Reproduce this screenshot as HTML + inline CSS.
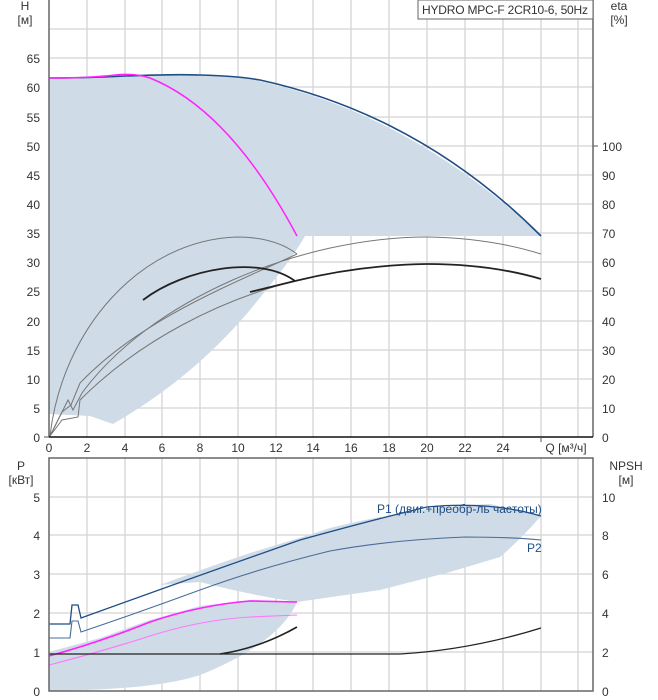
<!DOCTYPE html>
<html><head><meta charset="utf-8"><style>
html,body{margin:0;padding:0;background:#fff}
svg{display:block;font-family:"Liberation Sans",sans-serif}
</style></head><body>
<svg width="658" height="700" viewBox="0 0 658 700" xmlns="http://www.w3.org/2000/svg">
<g stroke="#d4d4d4" stroke-width="1.3">
<line x1="87" y1="0" x2="87" y2="437"/><line x1="125" y1="0" x2="125" y2="437"/><line x1="162" y1="0" x2="162" y2="437"/><line x1="200" y1="0" x2="200" y2="437"/><line x1="238" y1="0" x2="238" y2="437"/><line x1="276" y1="0" x2="276" y2="437"/><line x1="313" y1="0" x2="313" y2="437"/><line x1="351" y1="0" x2="351" y2="437"/><line x1="389" y1="0" x2="389" y2="437"/><line x1="427" y1="0" x2="427" y2="437"/><line x1="465" y1="0" x2="465" y2="437"/><line x1="503" y1="0" x2="503" y2="437"/><line x1="541" y1="0" x2="541" y2="437"/><line x1="578" y1="0" x2="578" y2="437"/>
<line x1="49" y1="408" x2="593" y2="408"/><line x1="49" y1="379" x2="593" y2="379"/><line x1="49" y1="350" x2="593" y2="350"/><line x1="49" y1="321" x2="593" y2="321"/><line x1="49" y1="291" x2="593" y2="291"/><line x1="49" y1="262" x2="593" y2="262"/><line x1="49" y1="233" x2="593" y2="233"/><line x1="49" y1="204" x2="593" y2="204"/><line x1="49" y1="175" x2="593" y2="175"/><line x1="49" y1="146" x2="593" y2="146"/><line x1="49" y1="117" x2="593" y2="117"/><line x1="49" y1="87" x2="593" y2="87"/><line x1="49" y1="58" x2="593" y2="58"/><line x1="49" y1="29" x2="593" y2="29"/>
</g>
<path d="M49,78 L125,76 Q200,72 238,77 Q400,105 541,236 L305,236 C290,262 270,285 250,310 C220,345 180,385 113,424 L90,416 L49,414 Z" fill="#cfdbe6"/>
<path d="M49,78 Q90,78 125,76 Q175,74 200,75 Q238,76 260,80 Q420,115 541,236" fill="none" stroke="#1f4e85" stroke-width="1.6"/>
<path d="M49,78 Q90,78 115,75 Q135,73 150,78 Q230,110 297,236" fill="none" stroke="#ff22ff" stroke-width="1.5"/>
<g fill="none" stroke="#777" stroke-width="1">
<path d="M50,436 C62,330 140,240 237,237 Q275,237 297,254"/>
<path d="M50,436 L68,400 L73,410 L82,393 C150,300 300,237 427,237 Q490,238 541,254"/>
<path d="M50,436 L62,412 L71,405 L80,383 C140,320 230,285 297,254"/>
<path d="M50,436 L62,420 L78,417 L80,400 C140,340 220,300 295,281"/>
</g>
<path d="M143,300 C185,268 260,255 295,281" fill="none" stroke="#222" stroke-width="1.8"/>
<path d="M250,292 L295,281 Q360,265 427,264 Q490,264 541,279" fill="none" stroke="#222" stroke-width="1.8"/>
<line x1="49" y1="0" x2="49" y2="437" stroke="#666" stroke-width="1.5"/>
<line x1="593" y1="0" x2="593" y2="437" stroke="#666" stroke-width="1.5"/>
<line x1="49" y1="437" x2="593" y2="437" stroke="#111" stroke-width="1.5"/>
<rect x="418" y="0" width="175" height="19" fill="#fff" stroke="#666"/>
<text x="422" y="14" font-size="12" fill="#333" textLength="166">HYDRO MPC-F 2CR10-6, 50Hz</text>
<g font-size="12" fill="#333" text-anchor="end">
<text x="40" y="442">0</text><text x="40" y="413">5</text><text x="40" y="384">10</text><text x="40" y="355">15</text><text x="40" y="326">20</text><text x="40" y="296">25</text><text x="40" y="267">30</text><text x="40" y="238">35</text><text x="40" y="209">40</text><text x="40" y="180">45</text><text x="40" y="151">50</text><text x="40" y="122">55</text><text x="40" y="92">60</text><text x="40" y="63">65</text>
</g>
<g font-size="12" fill="#333">
<text x="602" y="442">0</text><text x="602" y="413">10</text><text x="602" y="384">20</text><text x="602" y="355">30</text><text x="602" y="326">40</text><text x="602" y="296">50</text><text x="602" y="267">60</text><text x="602" y="238">70</text><text x="602" y="209">80</text><text x="602" y="180">90</text><text x="602" y="151">100</text>
</g>
<g font-size="12" fill="#333" text-anchor="middle">
<text x="49" y="452">0</text><text x="87" y="452">2</text><text x="125" y="452">4</text><text x="162" y="452">6</text><text x="200" y="452">8</text><text x="238" y="452">10</text><text x="276" y="452">12</text><text x="313" y="452">14</text><text x="351" y="452">16</text><text x="389" y="452">18</text><text x="427" y="452">20</text><text x="465" y="452">22</text><text x="503" y="452">24</text><text x="566" y="452">Q [м³/ч]</text>
<text x="25" y="10">H</text><text x="25" y="24">[м]</text>
<text x="619" y="10">eta</text><text x="619" y="24">[%]</text>
<text x="21" y="470">P</text><text x="21" y="484">[кВт]</text>
<text x="626" y="470">NPSH</text><text x="626" y="484">[м]</text>
</g>
<g stroke="#555"><line x1="44" y1="437" x2="49" y2="437"/><line x1="593" y1="146" x2="598" y2="146"/><line x1="541" y1="437" x2="541" y2="442"/></g>
<g stroke="#d4d4d4" stroke-width="1.3">
<line x1="87" y1="458" x2="87" y2="691"/><line x1="125" y1="458" x2="125" y2="691"/><line x1="162" y1="458" x2="162" y2="691"/><line x1="200" y1="458" x2="200" y2="691"/><line x1="238" y1="458" x2="238" y2="691"/><line x1="276" y1="458" x2="276" y2="691"/><line x1="313" y1="458" x2="313" y2="691"/><line x1="351" y1="458" x2="351" y2="691"/><line x1="389" y1="458" x2="389" y2="691"/><line x1="427" y1="458" x2="427" y2="691"/><line x1="465" y1="458" x2="465" y2="691"/><line x1="503" y1="458" x2="503" y2="691"/><line x1="541" y1="458" x2="541" y2="691"/><line x1="578" y1="458" x2="578" y2="691"/>
<line x1="49" y1="497" x2="593" y2="497"/><line x1="49" y1="535" x2="593" y2="535"/><line x1="49" y1="574" x2="593" y2="574"/><line x1="49" y1="613" x2="593" y2="613"/><line x1="49" y1="652" x2="593" y2="652"/>
</g>
<path d="M160,585 Q200,570 250,553 Q300,538 330,528 Q420,506 490,504 L541,516 Q520,540 500,557 L450,572 L380,590 L297,602 Q250,595 200,582 Z" fill="#cfdbe6"/>
<path d="M49,652 L100,638 L150,620 L200,606 L250,600 L297,602 C285,630 250,655 200,675 C160,688 100,690 49,691 Z" fill="#cfdbe6"/>
<path d="M49,624 L70,624 L72,605 L78,605 L81,618 Q200,575 300,540 Q380,518 427,507 Q490,501 541,516" fill="none" stroke="#1f4e85" stroke-width="1.3"/>
<path d="M49,638 L70,638 L72,621 L78,621 L81,632 Q140,612 200,590 Q260,568 330,551 Q390,540 465,537 Q510,537 541,540" fill="none" stroke="#4a6c98" stroke-width="1.1"/>
<path d="M49,656 Q100,642 150,622 Q200,605 250,601 L297,602" fill="none" stroke="#ff22ff" stroke-width="1.6"/>
<path d="M49,665 Q100,652 150,636 Q200,620 250,617 L297,615" fill="none" stroke="#ff77ff" stroke-width="1.1"/>
<path d="M49,654 L400,654 Q470,650 541,628" fill="none" stroke="#222" stroke-width="1.3"/>
<path d="M220,654 Q260,648 297,627" fill="none" stroke="#222" stroke-width="1.6"/>
<rect x="49" y="458" width="544" height="233" fill="none" stroke="#666" stroke-width="1.5"/>
<text x="377" y="513" font-size="12" fill="#1f4e85">P1 (двиг.+преобр-ль частоты)</text>
<text x="527" y="552" font-size="12" fill="#1f4e85">P2</text>
<g font-size="12" fill="#333" text-anchor="end">
<text x="40" y="696">0</text><text x="40" y="657">1</text><text x="40" y="618">2</text><text x="40" y="579">3</text><text x="40" y="540">4</text><text x="40" y="502">5</text>
</g>
<g font-size="12" fill="#333">
<text x="602" y="696">0</text><text x="602" y="657">2</text><text x="602" y="618">4</text><text x="602" y="579">6</text><text x="602" y="540">8</text><text x="602" y="502">10</text>
</g>
</svg>
</body></html>
